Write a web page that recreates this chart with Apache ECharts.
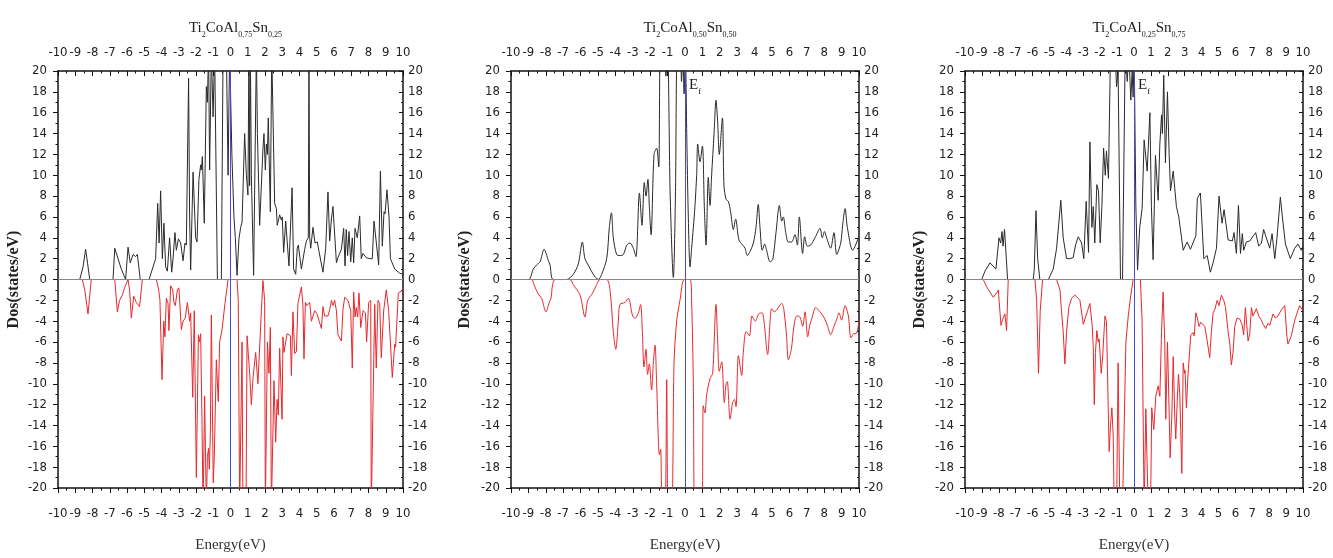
<!DOCTYPE html>
<html>
<head>
<meta charset="utf-8">
<script src="https://cdn.jsdelivr.net/npm/echarts@6/dist/echarts.min.js"></script>
<style>
  html, body { margin: 0; padding: 0; background: #fff; }
  #chart { width: 1333px; height: 558px; }
</style>
</head>
<body>
<div id="chart"></div>
<script>
// energy (eV) / DOS (states/eV) pairs, spin up (black) and spin down (red)
const spinUp1 = [[-10,0],[-8.74,0],[-8.55,1.2],[-8.4,2.9],[-8.28,1.5],[-8.16,0],[-6.81,0],[-6.71,3.0],[-6.52,2.0],[-6.33,1.0],[-6.08,0],[-5.94,3.1],[-5.81,1.6],[-5.65,2.4],[-5.5,2.2],[-5.4,2.4],[-5.23,0],[-4.72,0],[-4.53,1.0],[-4.34,2.0],[-4.22,7.3],[-4.14,3.5],[-4.05,8.5],[-3.95,2.0],[-3.86,5.4],[-3.76,1.2],[-3.66,0.8],[-3.53,4.0],[-3.41,0.7],[-3.33,2.0],[-3.22,4.5],[-3.14,2.8],[-3.02,3.9],[-2.89,3.5],[-2.75,1.8],[-2.64,3.5],[-2.56,3.3],[-2.43,19.3],[-2.37,6.0],[-2.31,0.9],[-2.17,10.3],[-2.02,4.0],[-1.94,3.6],[-1.83,9.6],[-1.73,11.0],[-1.69,10.5],[-1.63,11.8],[-1.52,5.4],[-1.4,18.5],[-1.34,17.0],[-1.27,22],[-1.21,10.5],[-1.11,22],[-1.01,15.6],[-0.92,22],[-0.76,0],[-0.53,0],[-0.43,22],[-0.24,22],[-0.14,10.0],[-0.05,22],[0.08,12],[0.2,6],[0.28,4.0],[0.38,0.4],[0.49,3.9],[0.59,5.0],[0.67,5.5],[0.82,14.0],[0.92,10.0],[1.01,8.1],[1.07,22],[1.11,9],[1.15,22],[1.21,10],[1.34,0.4],[1.5,22],[1.56,14.0],[1.69,5.2],[1.88,12.5],[1.94,14.0],[2.02,10.5],[2.08,13.0],[2.14,12.0],[2.19,15.5],[2.31,6.5],[2.39,22],[2.5,22],[2.56,7.3],[2.66,6.8],[2.71,5.2],[2.85,6.2],[2.95,5.7],[3.0,6.0],[3.08,2.6],[3.2,5.6],[3.24,4.7],[3.39,1.3],[3.57,8.8],[3.66,1.0],[3.78,0.5],[3.87,3.0],[3.93,3.3],[4.11,1.0],[4.3,2.9],[4.4,3.7],[4.51,4.0],[4.55,22],[4.59,4.0],[4.65,3.0],[4.72,3.0],[4.78,5.0],[4.9,3.5],[5.03,3.6],[5.13,2.7],[5.36,0.7],[5.52,3.0],[5.65,8.4],[5.75,3.7],[5.85,5.8],[5.94,7.0],[6.14,1.6],[6.23,2.1],[6.43,2.9],[6.56,4.9],[6.64,1.3],[6.71,4.8],[6.79,2.3],[6.87,4.6],[6.97,1.7],[7.06,4.0],[7.14,1.6],[7.22,4.9],[7.35,4.0],[7.49,6.1],[7.58,2.0],[7.68,2.5],[7.87,2.1],[8.07,2.0],[8.22,2.0],[8.32,5.6],[8.59,1.4],[8.69,10.4],[8.8,3.2],[8.9,6.5],[8.96,6.3],[9.07,8.6],[9.19,6.0],[9.27,2.0],[9.52,1.0],[9.81,0.6],[10,0.5]];
const spinDn1 = [[-10,0],[-8.59,0],[-8.45,-1.0],[-8.26,-3.3],[-8.07,0],[-6.71,0],[-6.56,-3.1],[-6.43,-2.0],[-6.27,-1.5],[-6.14,-0.8],[-5.94,0],[-5.85,-1.0],[-5.75,-3.7],[-5.61,-1.6],[-5.46,-2.2],[-5.27,-2.6],[-5.11,0],[-4.3,0],[-4.16,-1.0],[-4.09,-2.0],[-3.97,-9.6],[-3.87,-4.0],[-3.8,-5.5],[-3.72,-1.8],[-3.62,-2.3],[-3.57,-4.9],[-3.47,-0.6],[-3.35,-1.0],[-3.28,-2.2],[-3.2,-2.5],[-3.08,-1.0],[-2.99,-0.8],[-2.85,-4.8],[-2.75,-4.0],[-2.62,-3.7],[-2.5,-2.2],[-2.37,-4.0],[-2.31,-3.2],[-2.19,-11.3],[-2.1,-3.0],[-1.98,-19.0],[-1.86,-5.3],[-1.79,-6.0],[-1.73,-5.2],[-1.65,-14],[-1.59,-22],[-1.5,-11.2],[-1.4,-22],[-1.34,-17.0],[-1.27,-16.2],[-1.23,-18.2],[-1.17,-15],[-1.11,-3.4],[-1.05,-12],[-1.0,-19.5],[-0.94,-17],[-0.82,-7.7],[-0.71,-11.7],[-0.63,-6.0],[-0.49,-4.8],[-0.32,-2.3],[-0.14,0],[0.38,0],[0.45,-2.0],[0.53,-22],[0.6,-22],[0.67,-6.0],[0.72,-22],[0.9,-22],[0.96,-5.4],[1.11,-9.0],[1.21,-12.0],[1.3,-9.5],[1.46,-7.0],[1.59,-10.0],[1.79,-3.0],[1.88,-0.1],[1.98,-2.0],[2.02,-22],[2.08,-22],[2.14,-6.0],[2.23,-9.0],[2.31,-4.6],[2.37,-22],[2.46,-22],[2.52,-9.7],[2.62,-15.6],[2.7,-11.5],[2.77,-13.0],[2.85,-6.6],[2.99,-13.4],[3.04,-5.5],[3.1,-7.0],[3.28,-5.2],[3.47,-5.4],[3.53,-9.2],[3.62,-3.1],[3.72,-7.1],[3.82,-6.9],[3.91,-2.3],[4.11,-0.7],[4.2,-2.5],[4.26,-7.6],[4.34,-2.2],[4.43,-2.5],[4.59,-2.2],[4.69,-4.0],[4.88,-3.0],[5.01,-3.3],[5.27,-4.7],[5.36,-2.6],[5.46,-3.5],[5.65,-3.5],[5.75,-2.9],[5.85,-2.0],[5.94,-2.5],[6.04,-2.0],[6.14,-3.0],[6.23,-5.3],[6.43,-5.9],[6.52,-2.9],[6.62,-1.7],[6.81,-2.0],[6.97,-3.0],[7.06,-8.5],[7.14,-1.2],[7.22,-3.6],[7.29,-2.7],[7.37,-3.6],[7.45,-1.3],[7.55,-4.6],[7.68,-3.0],[7.82,-3.2],[7.89,-6.0],[8.01,-2.2],[8.13,-2.0],[8.16,-22],[8.26,-22],[8.36,-2.4],[8.45,-8.5],[8.55,-2.0],[8.65,-2.3],[8.74,-7.5],[8.88,-3.0],[9.03,-1.0],[9.17,-3.0],[9.38,-9.4],[9.52,-6.2],[9.57,-6.5],[9.73,-1.3],[10,-1.0]];

const spinUp2 = [[-10,0],[-9.0,0],[-8.72,1.0],[-8.52,1.4],[-8.33,1.7],[-8.1,2.9],[-7.85,1.8],[-7.76,1.4],[-7.57,0],[-6.8,0],[-6.42,0.5],[-6.13,1.5],[-5.9,3.6],[-5.75,2.0],[-5.5,1.2],[-5.27,0.5],[-4.98,0],[-4.79,0.5],[-4.5,2.0],[-4.35,5.0],[-4.23,6.4],[-4.12,4.0],[-3.93,2.4],[-3.74,2.3],[-3.54,2.4],[-3.35,3.3],[-3.16,3.5],[-2.97,3.0],[-2.82,2.2],[-2.62,8.3],[-2.47,5.2],[-2.34,9.3],[-2.24,8.0],[-2.13,9.6],[-2.05,7.0],[-1.95,4.3],[-1.78,12.0],[-1.63,12.6],[-1.51,10.8],[-1.4,22],[-1.2,22],[-1.1,19.5],[-1.0,22],[-0.85,8],[-0.67,0.2],[-0.55,8],[-0.44,22],[-0.29,22],[-0.2,19],[-0.13,22],[-0.05,17.8],[0.02,22],[0.1,14],[0.19,6],[0.29,1.2],[0.38,3.0],[0.48,5.0],[0.57,7.0],[0.67,10.0],[0.73,13.0],[0.86,11.3],[1.0,12.8],[1.11,7.0],[1.21,3.3],[1.34,9.8],[1.44,7.1],[1.53,10.0],[1.67,14.0],[1.78,17.2],[1.88,15.0],[1.97,12.0],[2.15,15.5],[2.24,9.0],[2.36,7.7],[2.49,7.5],[2.62,6.5],[2.78,4.8],[2.91,5.8],[3.1,3.8],[3.31,3.3],[3.45,3.0],[3.58,2.3],[3.74,2.7],[3.93,3.5],[4.08,5.0],[4.21,7.2],[4.31,5.0],[4.44,2.8],[4.58,3.4],[4.69,2.8],[4.89,1.7],[5.04,1.9],[5.23,4.5],[5.42,7.1],[5.56,5.6],[5.65,6.0],[5.79,4.5],[5.94,3.6],[6.13,3.6],[6.32,4.3],[6.46,3.3],[6.57,6.0],[6.76,2.5],[6.88,4.1],[7.03,3.2],[7.22,3.3],[7.47,4.0],[7.76,4.9],[7.89,4.0],[8.01,4.6],[8.14,4.0],[8.37,3.0],[8.56,4.5],[8.72,2.4],[8.95,3.5],[9.06,5.2],[9.2,6.8],[9.33,5.0],[9.64,2.8],[9.96,4.0]];
const spinDn2 = [[-10,0],[-8.81,0],[-8.68,-0.5],[-8.43,-1.4],[-8.24,-1.8],[-7.99,-3.1],[-7.8,-2.2],[-7.7,-1.8],[-7.61,-0.5],[-7.47,0],[-6.61,0],[-6.42,-0.5],[-6.03,-1.5],[-5.75,-3.6],[-5.59,-2.0],[-5.31,-1.3],[-5.08,-0.5],[-4.89,0],[-4.5,0],[-4.31,-1.0],[-4.12,-5.0],[-3.98,-6.7],[-3.83,-4.0],[-3.74,-2.4],[-3.45,-2.2],[-3.26,-1.8],[-3.01,-3.5],[-2.87,-3.7],[-2.68,-3.2],[-2.55,-2.4],[-2.45,-5.0],[-2.36,-8.4],[-2.24,-6.7],[-2.15,-9.1],[-2.05,-8.1],[-1.92,-10.6],[-1.82,-8.0],[-1.72,-6.3],[-1.63,-10.0],[-1.47,-16.8],[-1.4,-16.3],[-1.3,-22],[-1.15,-22],[-1.05,-9.6],[-0.96,-22],[-0.77,-22],[-0.63,-8.0],[-0.48,-4.0],[-0.29,-2.0],[-0.04,0],[0.29,0],[0.38,-2.0],[0.48,-10.0],[0.57,-22],[0.96,-22],[1.05,-12.1],[1.15,-12.8],[1.25,-11.0],[1.44,-9.5],[1.59,-9.0],[1.78,-2.4],[1.88,-6.0],[1.97,-8.8],[2.11,-7.9],[2.26,-11.8],[2.36,-10.0],[2.43,-9.8],[2.59,-13.4],[2.74,-11.8],[2.84,-11.5],[2.93,-12.2],[3.07,-7.3],[3.26,-9.2],[3.35,-7.0],[3.51,-5.0],[3.7,-5.4],[3.85,-3.5],[4.04,-4.0],[4.23,-3.3],[4.43,-3.2],[4.54,-4.0],[4.75,-7.2],[4.89,-4.0],[4.98,-2.8],[5.13,-3.1],[5.56,-2.3],[5.69,-3.0],[5.84,-5.5],[5.94,-7.7],[6.11,-6.7],[6.26,-4.5],[6.42,-3.5],[6.61,-3.6],[6.76,-4.5],[6.9,-3.1],[7.05,-5.5],[7.18,-4.3],[7.28,-3.8],[7.51,-2.7],[7.76,-3.1],[8.01,-3.7],[8.2,-4.5],[8.37,-5.3],[8.56,-4.5],[8.72,-3.8],[8.85,-3.2],[9.0,-3.9],[9.2,-2.5],[9.39,-3.5],[9.54,-5.6],[9.71,-5.2],[9.83,-5.2],[10,-4.0]];

const spinUp3 = [[-10,0],[-9.01,0],[-8.82,0.8],[-8.52,1.6],[-8.17,1.0],[-7.99,4.0],[-7.89,3.5],[-7.81,4.6],[-7.75,3.2],[-7.66,4.8],[-7.48,0],[-5.96,0],[-5.9,1.0],[-5.8,6.6],[-5.7,2.0],[-5.57,0],[-5.07,0],[-4.78,1.0],[-4.58,3.0],[-4.33,7.6],[-4.19,4.0],[-3.99,2.0],[-3.79,2.0],[-3.6,2.1],[-3.46,3.3],[-3.3,4.1],[-3.1,3.5],[-2.97,2.0],[-2.83,7.5],[-2.69,2.6],[-2.61,13.2],[-2.49,5.0],[-2.41,7.0],[-2.32,3.5],[-2.2,9.1],[-2.1,8.5],[-2.0,3.5],[-1.9,7.0],[-1.8,12.6],[-1.7,10.0],[-1.63,12.3],[-1.51,9.7],[-1.39,22],[-1.13,22],[-1.03,18.5],[-0.94,20],[-0.8,0],[-0.68,0],[-0.52,22],[-0.4,19],[-0.31,22],[-0.19,17.2],[-0.11,20],[-0.05,17.5],[0.01,22],[0.11,7.0],[0.21,0.9],[0.34,5.0],[0.48,6.8],[0.6,13.4],[0.78,10.4],[0.94,16.0],[1.03,7.0],[1.13,1.9],[1.27,11.9],[1.43,7.6],[1.53,13.0],[1.63,15.8],[1.68,14.0],[1.76,19.6],[1.86,11.2],[1.98,18.0],[2.08,12.0],[2.16,8.5],[2.32,10.4],[2.51,7.0],[2.65,6.0],[2.91,2.8],[3.14,3.6],[3.34,2.9],[3.66,4.2],[3.75,7.8],[3.93,8.3],[4.13,2.0],[4.33,2.3],[4.52,0.7],[4.68,1.6],[4.88,3.0],[5.03,8.0],[5.21,5.4],[5.33,6.7],[5.57,3.8],[5.82,3.7],[5.92,4.5],[6.06,2.5],[6.18,7.1],[6.3,2.5],[6.41,4.4],[6.49,2.8],[6.65,3.6],[6.85,3.7],[7.2,4.5],[7.38,3.2],[7.54,3.5],[7.67,4.8],[8.03,3.0],[8.17,4.4],[8.33,2.0],[8.46,4.0],[8.66,7.9],[8.78,6.0],[8.96,3.4],[9.25,2.0],[9.51,3.0],[9.7,3.4],[9.9,2.8],[10,3.2]];
const spinDn3 = [[-10,0],[-8.92,0],[-8.72,-0.7],[-8.33,-1.7],[-8.13,-1.3],[-8.03,-1.0],[-7.87,-4.4],[-7.77,-3.8],[-7.64,-3.3],[-7.54,-4.9],[-7.44,0],[-5.86,0],[-5.76,-2.0],[-5.65,-9.0],[-5.55,-3.0],[-5.41,0],[-4.58,0],[-4.38,-1.0],[-4.29,-3.0],[-4.19,-5.0],[-4.09,-8.1],[-3.99,-5.0],[-3.85,-2.6],[-3.69,-1.8],[-3.5,-1.5],[-3.3,-1.8],[-3.2,-2.0],[-3.0,-4.3],[-2.91,-4.4],[-2.75,-3.0],[-2.61,-2.3],[-2.47,-4.5],[-2.41,-6.5],[-2.35,-12.0],[-2.28,-7.0],[-2.2,-4.9],[-2.12,-6.0],[-2.06,-5.7],[-1.94,-9.0],[-1.86,-7.5],[-1.72,-3.5],[-1.63,-4.0],[-1.53,-12.0],[-1.47,-16.5],[-1.39,-14.0],[-1.31,-12.3],[-1.23,-15.0],[-1.17,-22],[-1.03,-22],[-0.94,-8.0],[-0.84,-22],[-0.68,-22],[-0.48,-6.0],[-0.34,-3.5],[-0.19,-1.5],[-0.05,0],[0.38,0],[0.48,-4.0],[0.6,-22],[0.7,-12.4],[0.84,-22],[0.98,-22],[1.05,-12.3],[1.17,-14.4],[1.29,-11.2],[1.43,-10.2],[1.53,-11.2],[1.63,-5.0],[1.72,-1.2],[1.82,-6.0],[1.88,-13.4],[1.98,-6.0],[2.02,-8.5],[2.14,-17.1],[2.24,-13.0],[2.32,-7.4],[2.41,-13.0],[2.47,-15.3],[2.55,-12.0],[2.63,-9.1],[2.71,-11.0],[2.83,-18.6],[2.91,-8.0],[2.99,-9.0],[3.02,-8.7],[3.1,-12.3],[3.2,-9.0],[3.36,-5.3],[3.5,-5.1],[3.56,-5.4],[3.66,-3.2],[3.75,-3.7],[3.85,-4.5],[3.95,-4.1],[4.19,-4.5],[4.34,-6.0],[4.48,-7.5],[4.58,-5.0],[4.68,-3.2],[4.78,-2.9],[4.92,-2.0],[5.03,-2.5],[5.17,-1.5],[5.31,-2.0],[5.41,-2.6],[5.57,-5.0],[5.67,-6.2],[5.76,-8.2],[5.86,-7.0],[5.96,-4.5],[6.1,-3.7],[6.26,-3.8],[6.39,-4.3],[6.49,-5.3],[6.59,-2.7],[6.75,-5.9],[6.85,-5.2],[6.95,-2.7],[7.04,-3.5],[7.24,-2.8],[7.38,-3.5],[7.5,-3.8],[7.64,-4.3],[7.79,-4.7],[7.93,-4.2],[8.03,-4.4],[8.23,-3.3],[8.37,-3.7],[8.52,-3.5],[8.72,-2.9],[8.92,-2.5],[9.05,-5.5],[9.11,-6.2],[9.31,-5.4],[9.51,-3.9],[9.8,-2.5],[10,-3.0]];

const titles = [
  'Ti{s|2}CoAl{s|0,75}Sn{s|0,25}',
  'Ti{s|2}CoAl{s|0,50}Sn{s|0,50}',
  'Ti{s|2}CoAl{s|0,25}Sn{s|0,75}'
];
const xRange = [-10, 10];
const yRange = [-20, 20];

const panels = [
  { left: 58,  width: 345, up: spinUp1, dn: spinDn1, ef: false, smooth: false, nameGap: 36 },
  { left: 511, width: 348, up: spinUp2, dn: spinDn2, ef: true,  smooth: 0.3,   nameGap: 38 },
  { left: 965, width: 338, up: spinUp3, dn: spinDn3, ef: true,  smooth: false, nameGap: 37 }
];
const gridTop = 71, gridHeight = 422;

const narrow = "'Liberation Sans Narrow', 'Arial Narrow', 'DejaVu Sans Condensed', sans-serif";
const serif = "'Liberation Serif', 'DejaVu Serif', serif";
const axisColor = '#111';
const tickFont = { fontFamily: narrow, fontSize: 13, color: '#222' };

const chart = echarts.init(document.getElementById('chart'));

const grid = [], xAxis = [], yAxis = [], series = [], title = [], graphic = [];

panels.forEach((p, i) => {
  grid.push({ left: p.left, top: gridTop, width: p.width, height: gridHeight });

  const baseX = {
    type: 'value', gridIndex: i, min: xRange[0], max: xRange[1], interval: 1,
    splitLine: { show: false },
    axisLine: { show: true, onZero: false, lineStyle: { color: axisColor, width: 1.5 } },
    minorTick: { show: true, splitNumber: 2, length: 2.5, lineStyle: { color: axisColor } }
  };
  xAxis.push(Object.assign({}, baseX, {
    position: 'bottom',
    name: 'Energy(eV)', nameLocation: 'middle', nameGap: 50,
    nameTextStyle: { fontFamily: serif, fontSize: 15, color: '#333' },
    axisTick: { inside: false, length: 5, lineStyle: { color: axisColor } },
    axisLabel: Object.assign({}, tickFont, { margin: 19 })
  }));
  xAxis.push(Object.assign({}, baseX, {
    position: 'top',
    axisTick: { inside: true, length: 5, lineStyle: { color: axisColor } },
    axisLabel: Object.assign({}, tickFont, { margin: 12 })
  }));

  const baseY = {
    type: 'value', gridIndex: i, min: yRange[0], max: yRange[1], interval: 2,
    splitLine: { show: false },
    axisLine: { show: true, onZero: false, lineStyle: { color: axisColor, width: 1.5 } },
    minorTick: { show: true, splitNumber: 2, length: 2.5, lineStyle: { color: axisColor } }
  };
  yAxis.push(Object.assign({}, baseY, {
    position: 'left',
    name: 'Dos(states/eV)', nameLocation: 'middle', nameGap: p.nameGap,
    nameTextStyle: { fontFamily: serif, fontSize: 16, fontWeight: 'bold', color: '#222' },
    axisTick: { inside: false, length: 5, lineStyle: { color: axisColor } },
    axisLabel: Object.assign({}, tickFont, { margin: 11 })
  }));
  yAxis.push(Object.assign({}, baseY, {
    position: 'right',
    axisTick: { inside: true, length: 4, lineStyle: { color: axisColor } },
    minorTick: { show: true, splitNumber: 2, length: 2, lineStyle: { color: axisColor } },
    axisLabel: Object.assign({}, tickFont, { margin: 5 })
  }));

  series.push({
    type: 'line', xAxisIndex: 2 * i, yAxisIndex: 2 * i,
    data: p.up, showSymbol: false, smooth: p.smooth, clip: true,
    lineStyle: { color: '#2a2a2a', width: 1 }, z: 3,
    markLine: {
      silent: true, symbol: ['none', 'none'], label: { show: false },
      data: [
        { yAxis: 0, lineStyle: { color: '#888', width: 1, type: 'solid' } }
      ]
    }
  });
  series.push({
    type: 'line', xAxisIndex: 2 * i, yAxisIndex: 2 * i,
    data: p.dn, showSymbol: false, smooth: p.smooth, clip: true,
    lineStyle: { color: '#e8282c', width: 1 }, z: 4,
    markLine: {
      silent: true, symbol: ['none', 'none'], label: { show: false },
      data: [
        { xAxis: 0, lineStyle: { color: '#4a4ad0', width: 1, type: 'solid' } }
      ]
    }
  });

  title.push({
    text: titles[i],
    left: p.left + p.width / 2, top: 12, textAlign: 'center',
    textStyle: {
      fontFamily: serif, fontSize: 15, fontWeight: 'normal', color: '#222', lineHeight: 18,
      rich: { s: { fontFamily: serif, fontSize: 8, color: '#222', lineHeight: 22, verticalAlign: 'bottom' } }
    }
  });

  if (p.ef) {
    graphic.push({
      type: 'text',
      left: p.left + p.width / 2 + 4, top: 78,
      style: {
        text: 'E{s|f}', fill: '#222', font: '15px ' + serif,
        rich: { s: { fontFamily: serif, fontSize: 9, fill: '#222', lineHeight: 22, verticalAlign: 'bottom' } }
      }
    });
  }
});

chart.setOption({
  animation: false,
  backgroundColor: '#fff',
  title, grid, xAxis, yAxis, series, graphic
});
</script>
</body>
</html>
